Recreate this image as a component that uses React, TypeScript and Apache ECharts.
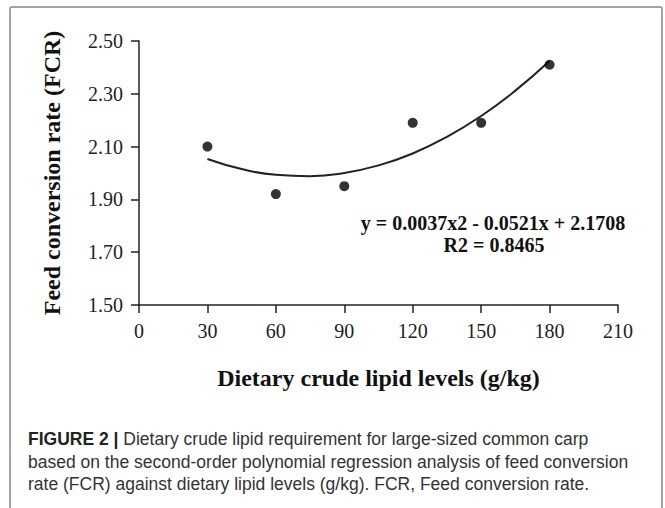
import React, { useEffect, useRef } from "react";
import * as echarts from "echarts";

const lipidLevels = [30, 60, 90, 120, 150, 180];
const fcrValues = [2.10, 1.92, 1.95, 2.19, 2.19, 2.41];

const trendX = [30, 45, 60, 75, 90, 105, 120, 135, 150, 165, 180];
const trendY = [2.053, 2.015, 1.993, 1.988, 2.0, 2.029, 2.074, 2.137, 2.216, 2.312, 2.424];

const xTicks = { min: 0, max: 210, interval: 30 };
const yTicks = { min: 1.5, max: 2.5, interval: 0.2 };

const equationText = "y = 0.0037x2 - 0.0521x + 2.1708";
const r2Text = "R2 = 0.8465";
const xTitle = "Dietary crude lipid levels (g/kg)";
const yTitle = "Feed conversion rate (FCR)";
const captionLines = [
  "{b|FIGURE 2 |} Dietary crude lipid requirement for large-sized common carp",
  "based on the second-order polynomial regression analysis of feed conversion",
  "rate (FCR) against dietary lipid levels (g/kg). FCR, Feed conversion rate.",
];

const SERIF = "'Liberation Serif', 'Times New Roman', serif";
const SANS = "'Liberation Sans', Arial, sans-serif";

export default function App() {
  const ref = useRef<HTMLDivElement>(null);
  useEffect(() => {
    if (!ref.current) return;
    const chart = echarts.init(ref.current, undefined, { renderer: "svg" });
    const axisColor = "#222";
    chart.setOption({
      animation: false,
      backgroundColor: "#fff",
      grid: { left: 139, right: 47, top: 41, bottom: 203, outerBoundsMode: "none" },
      xAxis: {
        type: "value",
        min: xTicks.min,
        max: xTicks.max,
        interval: xTicks.interval,
        name: xTitle,
        nameLocation: "middle",
        nameGap: 61,
        nameTextStyle: { fontFamily: SERIF, fontSize: 24, fontWeight: "bold", color: "#111" },
        axisLine: { lineStyle: { color: axisColor, width: 1.5 } },
        axisTick: { show: true, inside: false, length: 8, lineStyle: { color: axisColor, width: 1.5 } },
        splitLine: { show: false },
        axisLabel: { fontFamily: SERIF, fontSize: 20, color: "#222", margin: 16 },
      },
      yAxis: {
        type: "value",
        min: yTicks.min,
        max: yTicks.max,
        interval: yTicks.interval,
        name: yTitle,
        nameLocation: "middle",
        nameGap: 75,
        nameRotate: 90,
        nameTextStyle: { fontFamily: SERIF, fontSize: 24, fontWeight: "bold", color: "#111" },
        axisLine: { show: true, lineStyle: { color: axisColor, width: 1.5 } },
        axisTick: { show: true, inside: false, length: 8, lineStyle: { color: axisColor, width: 1.5 } },
        splitLine: { show: false },
        axisLabel: {
          fontFamily: SERIF,
          fontSize: 20,
          color: "#222",
          margin: 16,
          formatter: (v: number) => v.toFixed(2),
        },
      },
      series: [
        {
          type: "line",
          data: trendX.map((x, i) => [x, trendY[i]]),
          smooth: true,
          showSymbol: false,
          symbol: "none",
          lineStyle: { color: "#222", width: 2 },
          z: 2,
        },
        {
          type: "scatter",
          data: lipidLevels.map((x, i) => [x, fcrValues[i]]),
          symbol: "circle",
          symbolSize: 10,
          itemStyle: { color: "#000" },
          z: 3,
        },
      ],
      graphic: [
        {
          type: "rect",
          shape: { x: 10, y: 7, width: 652, height: 520, r: 2 },
          style: { fill: "none", stroke: "#888", lineWidth: 1.5 },
          silent: true,
        },
        {
          type: "text",
          x: 493,
          y: 223,
          style: {
            text: equationText,
            font: `bold 20px ${SERIF}`,
            fill: "#111",
            textAlign: "center",
            textVerticalAlign: "middle",
          },
        },
        {
          type: "text",
          x: 494,
          y: 245,
          style: {
            text: r2Text,
            font: `bold 20px ${SERIF}`,
            fill: "#111",
            textAlign: "center",
            textVerticalAlign: "middle",
          },
        },
        ...captionLines.map((line, i) => ({
          type: "text",
          x: 28,
          y: 439 + i * 22.5,
          style: {
            text: line,
            fontFamily: SANS,
            fontSize: 17.5,
            fill: "#333",
            textAlign: "left",
            textVerticalAlign: "middle",
            rich: { b: { fontFamily: SANS, fontSize: 17.5, fontWeight: "bold", fill: "#222" } },
          },
        })),
      ],
    });
    return () => chart.dispose();
  }, []);
  return (
    <div
      ref={ref}
      style={{ position: "absolute", left: 0, top: 0, width: 665, height: 508 }}
    />
  );
}
